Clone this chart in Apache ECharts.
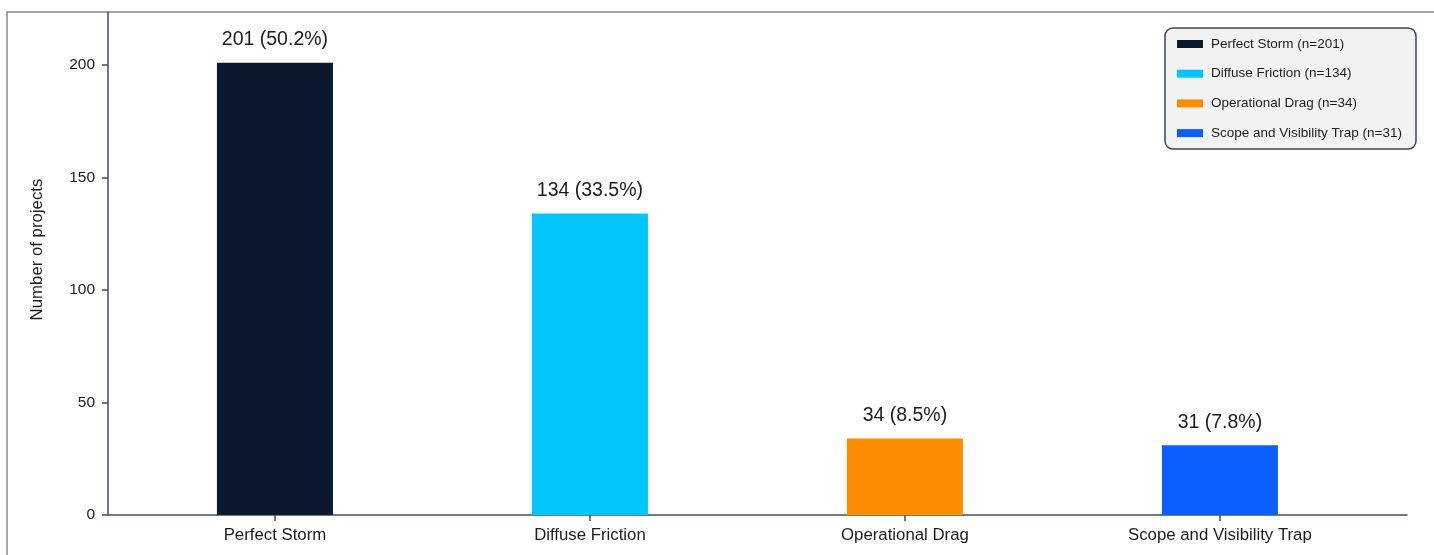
<!DOCTYPE html>
<html>
<head>
<meta charset="utf-8">
<title>Project archetypes</title>
<script src="https://cdn.jsdelivr.net/npm/echarts@6/dist/echarts.min.js"></script>
<style>
  html, body { margin: 0; padding: 0; background: #ffffff; }
  #chart { width: 1434px; height: 555px; }
</style>
</head>
<body>
<div id="chart"></div>
<script>
// Archetype categories, project counts and their shares of the 400 projects
const categories = ['Perfect Storm', 'Diffuse Friction', 'Operational Drag', 'Scope and Visibility Trap'];
const counts = [201, 134, 34, 31];
const shares = ['50.2', '33.5', '8.5', '7.8'];
const yTicks = [0, 50, 100, 150, 200];

const colors = ['#0a192e', '#02c6fc', '#fc8d01', '#0b5fff'];
const FONT = '"Liberation Sans", Arial, sans-serif';
const INK = '#1c1c1c';
const AXIS = '#465059';

const chart = echarts.init(document.getElementById('chart'), null, { renderer: 'canvas' });

// One series per archetype so each gets its own legend entry;
// bars sit at their category index on the x axis.
const series = categories.map((name, i) => ({
  name: name + ' (n=' + counts[i] + ')',
  type: 'bar',
  barWidth: 116,
  barGap: '-100%',
  itemStyle: { color: colors[i] },
  label: {
    show: true,
    position: 'top',
    distance: 13,
    fontFamily: FONT,
    fontSize: 19.5,
    color: INK,
    formatter: () => counts[i] + ' (' + shares[i] + '%)'
  },
  data: [[i, counts[i]]]
}));

chart.setOption({
  animation: false,
  backgroundColor: '#ffffff',
  textStyle: { fontFamily: FONT },
  grid: { left: 108, right: 27, top: 12, bottom: 40, containLabel: false },
  graphic: [{
    type: 'rect',
    z: -1,
    shape: { x: 7, y: 12, width: 1460, height: 600 },
    style: { fill: 'none', stroke: '#8a8a8a', lineWidth: 1.5 }
  }],
  legend: {
    orient: 'vertical',
    left: 1165,
    top: 28,
    padding: [9, 14, 9, 12],
    itemGap: 15.7,
    itemWidth: 26,
    itemHeight: 8,
    icon: 'rect',
    backgroundColor: '#f1f2f2',
    borderColor: '#3e4852',
    borderWidth: 1.5,
    borderRadius: 8,
    textStyle: { fontFamily: FONT, fontSize: 13.5, color: INK, padding: [0, 0, 0, 3] },
    data: series.map(s => s.name)
  },
  xAxis: {
    type: 'value',
    min: -0.53,
    max: 3.594,
    splitLine: { show: false },
    axisLine: { show: true, onZero: false, lineStyle: { color: AXIS, width: 1.5 } },
    axisTick: { show: true, length: 6, customValues: categories.map((_, i) => i), lineStyle: { color: AXIS, width: 1.5 } },
    axisLabel: {
      customValues: categories.map((_, i) => i),
      formatter: v => categories[Math.round(v)] || '',
      fontFamily: FONT,
      fontSize: 16.8,
      color: INK,
      margin: 12
    }
  },
  yAxis: {
    type: 'value',
    min: 0,
    max: 223.5,
    name: 'Number of projects',
    nameLocation: 'middle',
    nameGap: 62,
    nameTextStyle: { fontFamily: FONT, fontSize: 16.8, color: INK, padding: [0, 0, 0, 28] },
    splitLine: { show: false },
    axisLine: { show: true, onZero: false, lineStyle: { color: AXIS, width: 1.5 } },
    axisTick: { show: true, length: 6, customValues: yTicks, lineStyle: { color: AXIS, width: 1.5 } },
    axisLabel: {
      customValues: yTicks,
      fontFamily: FONT,
      fontSize: 15.5,
      color: INK,
      margin: 13
    }
  },
  series: series
});
</script>
</body>
</html>
